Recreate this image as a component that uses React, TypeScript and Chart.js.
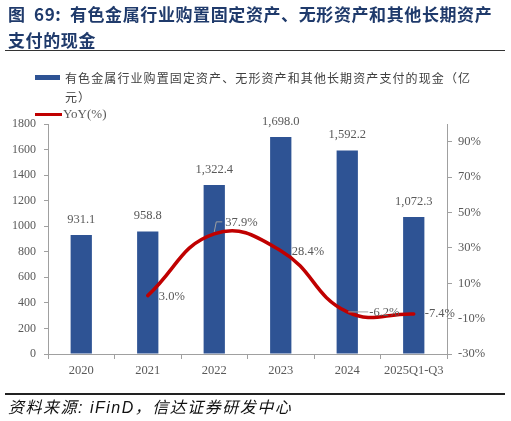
import React, { useEffect, useRef } from "react";
import { Chart, registerables } from "chart.js";

Chart.register(...registerables);

const categories = ["2020", "2021", "2022", "2023", "2024", "2025Q1-Q3"];
const cashValues = [931.1, 958.8, 1322.4, 1698.0, 1592.2, 1072.3];
const yoyValues: (number | null)[] = [null, 3.0, 37.9, 28.4, -6.2, -7.4];

const leftMin = 0;
const leftMax = 1800;
const leftStep = 200;
const rightMin = -30;
const rightMax = 100;
const rightTicks = [-30, -10, 10, 30, 50, 70, 90];

const titleLine1 = "图 69: 有色金属行业购置固定资产、无形资产和其他长期资产";
const titleLine2 = "支付的现金";
const barLegend1 = "有色金属行业购置固定资产、无形资产和其他长期资产支付的现金（亿";
const barLegend2 = "元）";
const lineLegend = "YoY(%)";
const sourceText = "资料来源: iFinD，信达证券研发中心";

const BAR_COLOR = "#2E5394";
const LINE_COLOR = "#C00000";
const TEXT_GRAY = "#595959";
const AXIS_GRAY = "#A0A0A0";
const SERIF = "'Liberation Serif', 'Times New Roman', serif";

const labelPlugin = {
  id: "valueLabels",
  afterDatasetsDraw(chart: any) {
    const ctx = chart.ctx;
    ctx.save();
    ctx.font = `12.5px ${SERIF}`;
    ctx.fillStyle = TEXT_GRAY;
    const barMeta = chart.getDatasetMeta(0);
    barMeta.data.forEach((el: any, i: number) => {
      const v = cashValues[i];
      const txt = v.toLocaleString("en-US", {
        minimumFractionDigits: 1,
        maximumFractionDigits: 1,
      });
      ctx.textAlign = "center";
      ctx.textBaseline = "middle";
      ctx.fillText(txt, el.x, el.y - 15.5);
    });
    const lineMeta = chart.getDatasetMeta(1);
    const offsets: Record<number, [number, number]> = {
      1: [11, 1],
      2: [11, -11],
      3: [11, 1],
      4: [22, 1],
      5: [11, 0],
    };
    lineMeta.data.forEach((el: any, i: number) => {
      const v = yoyValues[i];
      if (v === null || v === undefined) return;
      const off = offsets[i] || [11, 0];
      if (i === 2) {
        ctx.strokeStyle = AXIS_GRAY;
        ctx.lineWidth = 1;
        ctx.beginPath();
        ctx.moveTo(el.x, el.y - 2);
        ctx.lineTo(el.x + 2, el.y - 12);
        ctx.lineTo(el.x + 8, el.y - 12);
        ctx.stroke();
      }
      if (i === 4) {
        ctx.strokeStyle = AXIS_GRAY;
        ctx.lineWidth = 1;
        ctx.beginPath();
        ctx.moveTo(el.x + 1, el.y);
        ctx.lineTo(el.x + 21, el.y);
        ctx.stroke();
      }
      ctx.textAlign = "left";
      ctx.textBaseline = "middle";
      ctx.fillText(`${v.toFixed(1)}%`, el.x + off[0], el.y + off[1]);
    });
    ctx.restore();
  },
};

export default function App() {
  const canvasRef = useRef<HTMLCanvasElement | null>(null);

  useEffect(() => {
    if (!canvasRef.current) return;
    const chart = new Chart(canvasRef.current, {
      type: "bar",
      data: {
        labels: categories,
        datasets: [
          {
            type: "bar",
            label: "cash",
            data: cashValues,
            backgroundColor: BAR_COLOR,
            borderWidth: 0,
            categoryPercentage: 0.8,
            barPercentage: 0.4,
            yAxisID: "y",
            order: 2,
          },
          {
            type: "line",
            label: "YoY",
            data: yoyValues,
            borderColor: LINE_COLOR,
            borderWidth: 3.5,
            borderCapStyle: "round",
            tension: 0.45,
            pointRadius: 0,
            fill: false,
            spanGaps: false,
            yAxisID: "y1",
            order: 1,
          },
        ],
      } as any,
      options: {
        animation: false,
        responsive: true,
        maintainAspectRatio: false,
        layout: { padding: { top: 124, left: 0, right: 0, bottom: 0 } },
        plugins: {
          legend: { display: false },
          title: { display: false },
          tooltip: { enabled: false },
        },
        scales: {
          x: {
            grid: {
              display: true,
              drawOnChartArea: false,
              drawTicks: true,
              tickLength: 5,
              color: AXIS_GRAY,
              offset: true,
            },
            border: { display: true, color: AXIS_GRAY },
            ticks: {
              color: TEXT_GRAY,
              font: { family: SERIF, size: 12.5 },
              padding: 4,
              maxRotation: 0,
              autoSkip: false,
            },
            afterFit(scale: any) {
              scale.height = 67;
            },
          },
          y: {
            position: "left",
            min: leftMin,
            max: leftMax,
            grid: {
              display: true,
              drawOnChartArea: false,
              drawTicks: true,
              tickLength: 4,
              color: AXIS_GRAY,
            },
            border: { display: true, color: AXIS_GRAY },
            ticks: {
              stepSize: leftStep,
              color: TEXT_GRAY,
              font: { family: SERIF, size: 12 },
              padding: 8,
              callback: (v: any) => String(v),
            },
            afterFit(scale: any) {
              scale.width = 48;
            },
          },
          y1: {
            position: "right",
            min: rightMin,
            max: rightMax,
            grid: {
              display: true,
              drawOnChartArea: false,
              drawTicks: true,
              tickLength: 5,
              color: AXIS_GRAY,
            },
            border: { display: true, color: AXIS_GRAY },
            ticks: {
              color: TEXT_GRAY,
              font: { family: SERIF, size: 12.5 },
              padding: 6,
              callback: (v: any) => `${v}%`,
            },
            afterBuildTicks(scale: any) {
              scale.ticks = rightTicks.map((value) => ({ value }));
            },
            afterFit(scale: any) {
              scale.width = 64;
            },
          },
        },
      } as any,
      plugins: [labelPlugin],
    });
    return () => chart.destroy();
  }, []);

  const cjk = "'Noto Sans CJK SC', 'Noto Sans', sans-serif";

  return (
    <div
      style={{
        position: "fixed",
        left: 0,
        top: 0,
        width: 511,
        height: 421,
        background: "#fff",
        overflow: "hidden",
      }}
    >
      <div style={{ position: "absolute", left: 0, top: 0, width: 511, height: 421 }}>
        <canvas ref={canvasRef} />
      </div>
      <div
        style={{
          position: "absolute",
          left: 8,
          top: 1,
          fontFamily: cjk,
          fontWeight: 700,
          fontSize: 17,
          lineHeight: "26px",
          letterSpacing: "0.6px",
          wordSpacing: "4px",
          color: "#1F3A6B",
          whiteSpace: "nowrap",
        }}
      >
        {titleLine1}
        <br />
        {titleLine2}
      </div>
      <div
        style={{
          position: "absolute",
          left: 5,
          top: 50,
          width: 500,
          height: 1,
          background: "#333",
        }}
      />
      <div
        style={{
          position: "absolute",
          left: 35,
          top: 75,
          width: 25,
          height: 5,
          background: BAR_COLOR,
        }}
      />
      <div
        style={{
          position: "absolute",
          left: 65,
          top: 68,
          fontFamily: cjk,
          fontSize: 12,
          letterSpacing: "1.1px",
          lineHeight: "19px",
          color: "#404040",
          whiteSpace: "nowrap",
        }}
      >
        {barLegend1}
        <br />
        {barLegend2}
      </div>
      <div
        style={{
          position: "absolute",
          left: 35,
          top: 113,
          width: 27,
          height: 3,
          background: LINE_COLOR,
        }}
      />
      <div
        style={{
          position: "absolute",
          left: 63,
          top: 106,
          fontFamily: SERIF,
          fontSize: 13,
          lineHeight: "16px",
          color: TEXT_GRAY,
          whiteSpace: "nowrap",
        }}
      >
        {lineLegend}
      </div>
      <div
        style={{
          position: "absolute",
          left: 5,
          top: 393,
          width: 500,
          height: 1.5,
          background: "#222",
        }}
      />
      <div
        style={{
          position: "absolute",
          left: 8,
          top: 398,
          fontFamily: `'Liberation Sans', ${cjk}`,
          fontStyle: "italic",
          fontSize: 16,
          lineHeight: "20px",
          letterSpacing: "1.5px",
          color: "#111",
          whiteSpace: "nowrap",
        }}
      >
        {sourceText}
      </div>
    </div>
  );
}
